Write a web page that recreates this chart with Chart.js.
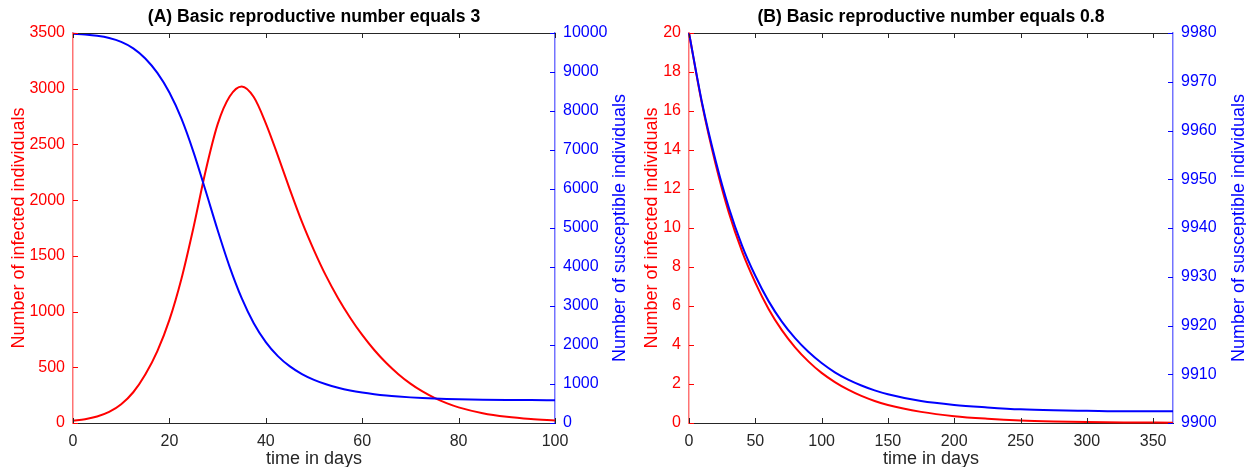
<!DOCTYPE html>
<html>
<head>
<meta charset="utf-8">
<script src="https://cdn.jsdelivr.net/npm/chart.js@4.4.1/dist/chart.umd.min.js"></script>
<style>
  html, body { margin: 0; padding: 0; background: #fff; }
  #wrap { position: relative; width: 1246px; height: 467px; overflow: hidden; }
  canvas { position: absolute; top: 0; }
</style>
</head>
<body>
<div id="wrap">
  <canvas id="panelA" width="640" height="467" style="left:0"></canvas>
  <canvas id="panelB" width="623" height="467" style="left:623px"></canvas>
</div>
<script>
// SIR run with R0 = 3 (N = 10000)
const daysA = [0, 2.5, 5, 7.5, 10, 12.5, 15, 17.5, 20, 22.5, 25, 27.5, 30, 32.5, 35, 37.5, 40, 42.5, 45, 47.5,
  50, 52.5, 55, 57.5, 60, 62.5, 65, 67.5, 70, 72.5, 75, 77.5, 80, 85, 90, 95, 100];
const infectedA = [20, 34, 58, 99, 168, 276, 435, 645, 925, 1295, 1755, 2260, 2680, 2930, 3020, 2925, 2690, 2400, 2095, 1805,
  1550, 1320, 1120, 945, 790, 655, 538, 438, 353, 283, 225, 178, 140, 88, 56, 36, 23];
const susceptibleA = [9980, 9960, 9927, 9870, 9771, 9606, 9347, 8976, 8473, 7803, 6947, 5961, 4949, 4005, 3201, 2559, 2074, 1715, 1451, 1254,
  1106, 993, 905, 835, 781, 738, 704, 678, 657, 641, 628, 618, 610, 599, 592, 588, 585];

// SIR run with R0 = 0.8
const daysB = [0, 10, 20, 30, 40, 50, 60, 70, 80, 90, 100, 110, 120, 130, 140, 150, 175, 200, 225, 250, 275, 300, 330, 365];
const infectedB = [20, 16.3, 13.3, 10.8, 8.8, 7.2, 5.85, 4.76, 3.88, 3.16, 2.57, 2.1, 1.71, 1.39, 1.13, 0.92, 0.57, 0.35, 0.22, 0.13, 0.08, 0.05, 0.03, 0.015];
const susceptibleB = [9980, 9965.5, 9953.9, 9944.2, 9936.4, 9930.2, 9925.0, 9920.8, 9917.4, 9914.6, 9912.3, 9910.4, 9908.9, 9907.7, 9906.7, 9905.9,
  9904.5, 9903.7, 9903.2, 9902.8, 9902.6, 9902.5, 9902.4, 9902.4];

// axis ticks
const xTicksA = [0, 20, 40, 60, 80, 100];
const infTicksA = [0, 500, 1000, 1500, 2000, 2500, 3000, 3500];
const susTicksA = [0, 1000, 2000, 3000, 4000, 5000, 6000, 7000, 8000, 9000, 10000];
const xTicksB = [0, 50, 100, 150, 200, 250, 300, 350];
const infTicksB = [0, 2, 4, 6, 8, 10, 12, 14, 16, 18, 20];
const susTicksB = [9900, 9910, 9920, 9930, 9940, 9950, 9960, 9970, 9980];

const RED = '#ff0000';
const BLUE = '#0000ff';
const GRAY = '#262626';
const FONT = '"Liberation Sans", Arial, Helvetica, sans-serif';

Chart.defaults.font.family = FONT;
Chart.defaults.font.size = 16;

// box top edge, inward tick marks and all titles
const framePlugin = {
  id: 'frame',
  afterDraw(chart, args, opts) {
    const { ctx, chartArea: a, scales } = chart;
    const len = 5;
    ctx.save();
    ctx.lineWidth = 1;

    ctx.strokeStyle = GRAY;
    ctx.beginPath();
    ctx.moveTo(a.left, a.top + 0.5);
    ctx.lineTo(a.right, a.top + 0.5);
    scales.x.ticks.forEach(t => {
      const px = Math.round(scales.x.getPixelForValue(t.value)) + 0.5;
      ctx.moveTo(px, a.bottom);
      ctx.lineTo(px, a.bottom - len);
      ctx.moveTo(px, a.top);
      ctx.lineTo(px, a.top + len);
    });
    ctx.stroke();

    ctx.strokeStyle = RED;
    ctx.beginPath();
    scales.yI.ticks.forEach(t => {
      const py = Math.round(scales.yI.getPixelForValue(t.value)) + 0.5;
      ctx.moveTo(a.left, py);
      ctx.lineTo(a.left + len, py);
    });
    ctx.stroke();

    ctx.strokeStyle = BLUE;
    ctx.beginPath();
    scales.yS.ticks.forEach(t => {
      const py = Math.round(scales.yS.getPixelForValue(t.value)) + 0.5;
      ctx.moveTo(a.right, py);
      ctx.lineTo(a.right - len, py);
    });
    ctx.stroke();

    const midY = (a.top + a.bottom) / 2;
    const midX = (a.left + a.right) / 2;
    ctx.textAlign = 'center';
    ctx.textBaseline = 'middle';

    ctx.font = 'bold 17.6px ' + FONT;
    ctx.fillStyle = '#000';
    ctx.fillText(opts.title, midX, 17);

    ctx.font = '18px ' + FONT;
    ctx.fillStyle = GRAY;
    ctx.fillText('time in days', midX, 459);

    ctx.save();
    ctx.translate(opts.leftTitleX, midY);
    ctx.rotate(-Math.PI / 2);
    ctx.fillStyle = RED;
    ctx.fillText('Number of infected individuals', 0, 0);
    ctx.restore();

    ctx.save();
    ctx.translate(opts.rightTitleX, midY);
    ctx.rotate(-Math.PI / 2);
    ctx.fillStyle = BLUE;
    ctx.fillText('Number of susceptible individuals', 0, 0);
    ctx.restore();

    ctx.restore();
  }
};

const fixedTicks = values => scale => { scale.ticks = values.map(v => ({ value: v })); };

function makePanel(id, p) {
  const points = (xs, ys) => xs.map((x, i) => ({ x, y: ys[i] }));
  return new Chart(document.getElementById(id), {
    type: 'line',
    data: {
      datasets: [
        {
          data: points(p.days, p.infected),
          yAxisID: 'yI',
          borderColor: RED,
          order: 1
        },
        {
          data: points(p.days, p.susceptible),
          yAxisID: 'yS',
          borderColor: BLUE,
          order: 0
        }
      ]
    },
    plugins: [framePlugin],
    options: {
      responsive: false,
      animation: false,
      events: [],
      clip: false,
      layout: { padding: { top: 33, left: 0, right: 0, bottom: 0 } },
      elements: {
        point: { radius: 0 },
        line: { borderWidth: 2, cubicInterpolationMode: 'monotone', fill: false }
      },
      plugins: {
        legend: { display: false },
        tooltip: { enabled: false },
        frame: p.frame
      },
      scales: {
        x: {
          type: 'linear',
          min: p.xMin,
          max: p.xMax,
          afterBuildTicks: fixedTicks(p.xTicks),
          afterFit: s => { s.height = 44; },
          grid: { display: false },
          border: { color: GRAY, width: 1 },
          ticks: { color: GRAY, padding: 1, maxRotation: 0, autoSkip: false, callback: v => String(v) }
        },
        yI: {
          type: 'linear',
          position: 'left',
          min: p.infTicks[0],
          max: p.infTicks[p.infTicks.length - 1],
          afterBuildTicks: fixedTicks(p.infTicks),
          afterFit: s => { s.width = p.leftWidth; },
          grid: { display: false },
          border: { color: 'rgba(255,0,0,0.55)', width: 1.5 },
          ticks: { color: RED, padding: 0, autoSkip: false, callback: v => String(v) }
        },
        yS: {
          type: 'linear',
          position: 'right',
          min: p.susTicks[0],
          max: p.susTicks[p.susTicks.length - 1],
          afterBuildTicks: fixedTicks(p.susTicks),
          afterFit: s => { s.width = p.rightWidth; },
          grid: { display: false },
          border: { color: 'rgba(0,0,255,0.55)', width: 1.5 },
          ticks: { color: BLUE, padding: 0, autoSkip: false, callback: v => String(v) }
        }
      }
    }
  });
}

makePanel('panelA', {
  days: daysA, infected: infectedA, susceptible: susceptibleA,
  xMin: 0, xMax: 100, xTicks: xTicksA, infTicks: infTicksA, susTicks: susTicksA,
  leftWidth: 73, rightWidth: 85,
  frame: { title: '(A) Basic reproductive number equals 3', leftTitleX: 19, rightTitleX: 620 }
});

makePanel('panelB', {
  days: daysB, infected: infectedB, susceptible: susceptibleB,
  xMin: 0, xMax: 365, xTicks: xTicksB, infTicks: infTicksB, susTicks: susTicksB,
  leftWidth: 66, rightWidth: 73,
  frame: { title: '(B) Basic reproductive number equals 0.8', leftTitleX: 29, rightTitleX: 616 }
});
</script>
</body>
</html>
